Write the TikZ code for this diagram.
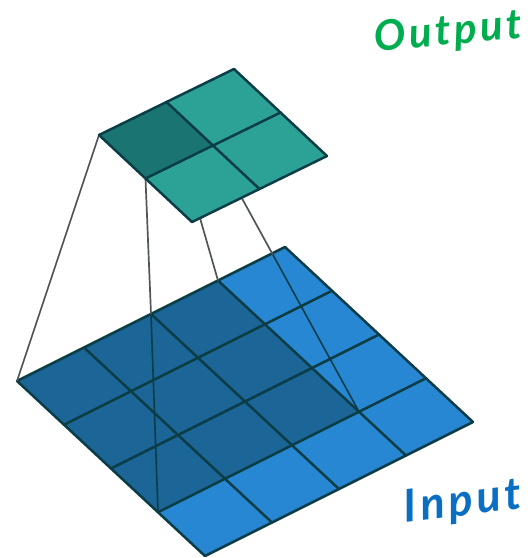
\documentclass[tikz,border=0pt]{standalone}
\usetikzlibrary{calc}
\usepackage{fontspec}
\setmainfont{Lato}
\definecolor{inlight}{HTML}{2887D3}
\definecolor{indark}{HTML}{1B6597}
\definecolor{outlight}{HTML}{2CA297}
\definecolor{outdark}{HTML}{1A7570}
\definecolor{edgecol}{HTML}{0B3D47}
\definecolor{linkcol}{HTML}{505658}
\definecolor{outtext}{HTML}{00AD4E}
\definecolor{intext}{HTML}{0A6FC2}
\tikzset{
  gridline/.style={draw=edgecol,line width=2.5pt,line join=round,line cap=round},
  linkline/.style={draw=linkcol,line width=1.7pt},
  overlink/.style={draw=edgecol,line width=1.6pt},
  handout/.style={text=outtext,font=\fontsize{42}{46}\selectfont\bfseries\itshape\addfontfeatures{LetterSpace=8},inner sep=0pt},
  handin/.style={text=intext,font=\fontsize{45}{50}\selectfont\bfseries\itshape\addfontfeatures{LetterSpace=9},inner sep=0pt}
}
\begin{document}
\begin{tikzpicture}[x=1pt,y=-1pt]
\useasboundingbox (0,0) rectangle (532,558);
% Input grid corners
\coordinate (iL) at (17,381);
\coordinate (iT) at (285,247);
\coordinate (iR) at (473,422);
\coordinate (iB) at (205,556);
% Input lattice points in(i,j): i along L->T, j along L->B
\foreach \i in {0,...,4}{\foreach \j in {0,...,4}{
  \coordinate (in\i\j) at ($(17,381)+\i*(67,-33.5)+\j*(47,43.75)$);
}}
\fill[inlight] (iL)--(iT)--(iR)--(iB)--cycle;
\fill[indark] (in00)--(in30)--(in33)--(in03)--cycle;
% Output lattice
\coordinate (oL) at (99,135);
\coordinate (oT) at (234,69);
\coordinate (oR) at (327,156);
\coordinate (oB) at (192,222);
\foreach \i in {0,1,2}{\foreach \j in {0,1,2}{
  \coordinate (ou\i\j) at ($(99,135)+\i*(67.5,-33)+\j*(46.5,43.5)$);
}}
% Input grid lines
\foreach \k in {0,...,4}{
  \draw[gridline] (in\k0)--(in\k4);
  \draw[gridline] (in0\k)--(in4\k);
}
% Links
\draw[linkline] (ou00)--(in00);
\draw[linkline] (ou10)--(in30);
\draw[linkline] (ou01)--(in20);
\draw[overlink] (in20)--(in03);
\draw[linkline] (ou11)--($(ou11)!0.41!(in33)$) coordinate (lk);
\draw[overlink] (lk)--(in33);
% Output grid
\fill[outlight] (oL)--(oT)--(oR)--(oB)--cycle;
\fill[outdark] (ou00)--(ou10)--(ou11)--(ou01)--cycle;
\foreach \k in {0,1,2}{
  \draw[gridline] (ou\k0)--(ou\k2);
  \draw[gridline] (ou0\k)--(ou2\k);
}
\node[handout,rotate=5] (outlabel) at (448,33) {Output};
\node[handin,rotate=7] (inlabel) at (463,503) {Input};
\end{tikzpicture}
\end{document}
